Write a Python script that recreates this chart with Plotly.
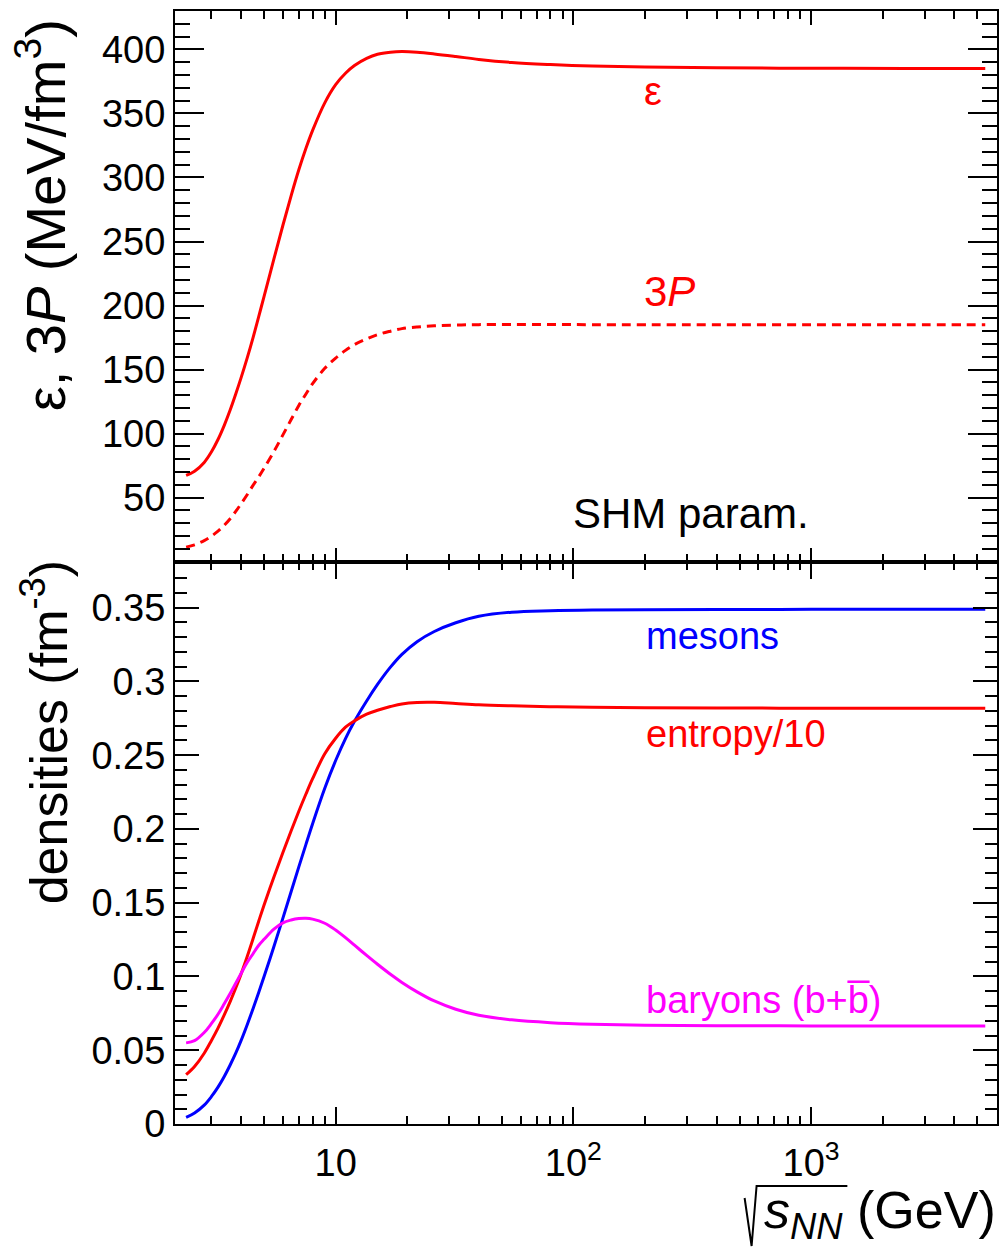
import math
import plotly.graph_objects as go

# ---------------- data ----------------
sqrt_s = [2.35, 2.55, 2.8, 3.0, 3.2, 3.4, 3.6, 3.8, 4.0, 4.25, 4.5, 4.75, 5.0, 5.5, 6.0, 6.5,
          7.0, 7.5, 8.0, 9.0, 10, 11, 12, 13.5, 15, 17, 19, 22, 26, 32, 40, 55, 80, 120,
          200, 400, 1000, 2500, 5400]

energy_density = [67.4, 70.6, 77.5, 85.6, 95.4, 106.5, 118.4, 130.9, 143.5, 159.3, 175.4,
                  191.6, 207.2, 236.4, 262.7, 285.9, 306, 322.8, 336.8, 358.3, 372.5, 381.4,
                  387.4, 393, 396.2, 397.8, 398.3, 397.8, 396.5, 394.5, 392.2, 389.8, 388.2,
                  387, 386.2, 385.6, 385.3, 385.1, 385.1]

three_pressure = [11.4, 13.2, 16.5, 19.9, 23.8, 28.5, 33.6, 39.3, 45.2, 52.5, 59.8, 66.3, 73,
                  86, 99, 111, 122, 131, 139, 151, 159, 165, 169.5, 174, 177.3, 180, 182,
                  183.3, 184.2, 184.8, 185.1, 185.2, 185.2, 185.1, 185.1, 185.0, 185.0, 185.0,
                  185.0]

meson_density = [0.0045, 0.0075, 0.0128, 0.0185, 0.025, 0.0322, 0.040, 0.048, 0.0565, 0.0675,
                 0.0785, 0.0893, 0.100, 0.1203, 0.1396, 0.1576, 0.1743, 0.1896, 0.2036,
                 0.2276, 0.2464, 0.2613, 0.273, 0.2868, 0.298, 0.3097, 0.3184, 0.327, 0.3339,
                 0.3398, 0.3442, 0.347, 0.348, 0.3485, 0.3487, 0.3488, 0.3489, 0.3489, 0.3489]

entropy_density_10 = [0.0334, 0.039, 0.048, 0.0565, 0.065, 0.074, 0.083, 0.0922, 0.1016,
                      0.1137, 0.1259, 0.1376, 0.1485, 0.1675, 0.1841, 0.1988, 0.212, 0.2237,
                      0.2341, 0.251, 0.2615, 0.269, 0.2733, 0.2778, 0.2805, 0.283, 0.2848,
                      0.2858, 0.2859, 0.2851, 0.2842, 0.2835, 0.2829, 0.2825, 0.2822, 0.282,
                      0.2819, 0.2818, 0.2818]

baryon_density = [0.055, 0.0565, 0.062, 0.068, 0.0744, 0.0815, 0.0884, 0.0954, 0.102, 0.1096,
                  0.1156, 0.1212, 0.1252, 0.1321, 0.1364, 0.1383, 0.1393, 0.1395, 0.1389,
                  0.1361, 0.1315, 0.1263, 0.1212, 0.1143, 0.1083, 0.1015, 0.096, 0.0896,
                  0.0834, 0.0778, 0.0737, 0.0706, 0.0687, 0.0676, 0.0669, 0.0666, 0.0665,
                  0.0664, 0.0664]

x_major = [10, 100, 1000]
x_major_text = ["10", "10<sup>2</sup>", "10<sup>3</sup>"]
x_minor = [3, 4, 5, 6, 7, 8, 9, 20, 30, 40, 50, 60, 70, 80, 90,
           200, 300, 400, 500, 600, 700, 800, 900, 2000, 3000, 4000, 5000]
top_ticks = [50, 100, 150, 200, 250, 300, 350, 400]
bottom_ticks = [0, 0.05, 0.1, 0.15, 0.2, 0.25, 0.3, 0.35]
bottom_ticktext = ["0", "0.05", "0.1", "0.15", "0.2", "0.25", "0.3", "0.35"]

# ---------------- layout geometry ----------------
W, H = 1002, 1248
L, R, T, B = 175, 999, 11, 1124
FONT = "Liberation Sans, Arial, Helvetica, sans-serif"


def px(xp):
    return (xp - L) / (R - L)


def py(yp):
    return (B - yp) / (B - T)


split = py(561.7)

fig = go.Figure()

RED, BLUE, MAG = "#ff0000", "#0000ff", "#ff00ff"

fig.add_trace(go.Scatter(x=sqrt_s, y=energy_density, mode="lines", xaxis="x2", yaxis="y2",
                         line=dict(color=RED, width=3, shape="spline"), showlegend=False))
fig.add_trace(go.Scatter(x=sqrt_s, y=three_pressure, mode="lines", xaxis="x2", yaxis="y2",
                         line=dict(color=RED, width=3, dash="9px,6px", shape="spline"),
                         showlegend=False))
fig.add_trace(go.Scatter(x=sqrt_s, y=meson_density, mode="lines", xaxis="x", yaxis="y",
                         line=dict(color=BLUE, width=3, shape="spline"), showlegend=False))
fig.add_trace(go.Scatter(x=sqrt_s, y=entropy_density_10, mode="lines", xaxis="x", yaxis="y",
                         line=dict(color=RED, width=3, shape="spline"), showlegend=False))
fig.add_trace(go.Scatter(x=sqrt_s, y=baryon_density, mode="lines", xaxis="x", yaxis="y",
                         line=dict(color=MAG, width=3, shape="spline"), showlegend=False))

axis_common = dict(showline=True, linewidth=2, linecolor="black", ticks="inside",
                   tickcolor="black", tickwidth=1.5, mirror="ticks", showgrid=False,
                   zeroline=False, tickfont=dict(family=FONT, size=38, color="black"))

xrange = [math.log10(2.11), math.log10(6050)]

fig.update_layout(
    width=W, height=H,
    margin=dict(l=L, r=W - R, t=T, b=H - B),
    plot_bgcolor="white", paper_bgcolor="white",
    font=dict(family=FONT, color="black"),
    xaxis=dict(type="log", range=xrange, anchor="y", tickmode="array",
               tickvals=x_major, ticktext=x_major_text, ticklen=17,
               ticklabelstandoff=4,
               minor=dict(tickmode="array", tickvals=x_minor, ticks="inside", ticklen=8,
                          tickcolor="black", tickwidth=1.5),
               **axis_common),
    xaxis2=dict(type="log", range=xrange, anchor="y2", matches="x", tickmode="array",
                tickvals=x_major, showticklabels=False, ticklen=14,
                minor=dict(tickmode="array", tickvals=x_minor, ticks="inside", ticklen=8,
                           tickcolor="black", tickwidth=1.5),
                **axis_common),
    yaxis=dict(domain=[0, split], range=[0, 0.3812], anchor="x", tickmode="array",
               tickvals=bottom_ticks, ticktext=bottom_ticktext, ticklen=24,
               ticklabelstandoff=0,
               minor=dict(dtick=0.01, ticks="inside", ticklen=12, tickcolor="black",
                          tickwidth=1.5),
               **axis_common),
    yaxis2=dict(domain=[split, 1], range=[0, 430], anchor="x2", tickmode="array",
                tickvals=top_ticks, ticklen=29, ticklabelstandoff=0,
                minor=dict(dtick=10, ticks="inside", ticklen=15, tickcolor="black",
                           tickwidth=1.5),
                **axis_common),
)


def label(text, xp, yp, size, color="black", xanchor="left", angle=0):
    fig.add_annotation(text=text, x=px(xp), y=py(yp), xref="paper", yref="paper",
                       xanchor=xanchor, yanchor="middle", showarrow=False, textangle=angle,
                       font=dict(family=FONT, size=size, color=color))


label("ε", 643, 91, 40, RED)
label("3<i>P</i>", 643, 292, 42, RED)
label("SHM param.", 572, 513, 42, "black")
label("mesons", 645, 636, 38, BLUE)
label("entropy/10", 645, 734, 38, RED)
label("baryons (b+b\u0305)", 645, 1000, 38, MAG)

label("ε, 3<i>P</i> (MeV/fm<sup>3</sup>)", 42, 215, 56, "black", xanchor="center", angle=-90)
label("densities (fm<sup>-3</sup>)", 45, 732, 52, "black", xanchor="center", angle=-90)

label("<i>s</i><sub><i>NN</i></sub> (GeV)", 1000, 1214, 52, "black", xanchor="right")

# the square-root sign drawn as a path (ROOT style radical)
fig.add_shape(type="path", xref="paper", yref="paper",
              path="M {:.5f},{:.5f} L {:.5f},{:.5f} L {:.5f},{:.5f} L {:.5f},{:.5f}".format(
                  px(746), py(1198), px(753), py(1246), px(758), py(1186), px(849), py(1186)),
              line=dict(color="black", width=2))

fig.write_html("out.html",
               config={"displayModeBar": False},
               post_script="document.body.style.margin='0';"
                           "document.body.style.overflow='hidden';")
